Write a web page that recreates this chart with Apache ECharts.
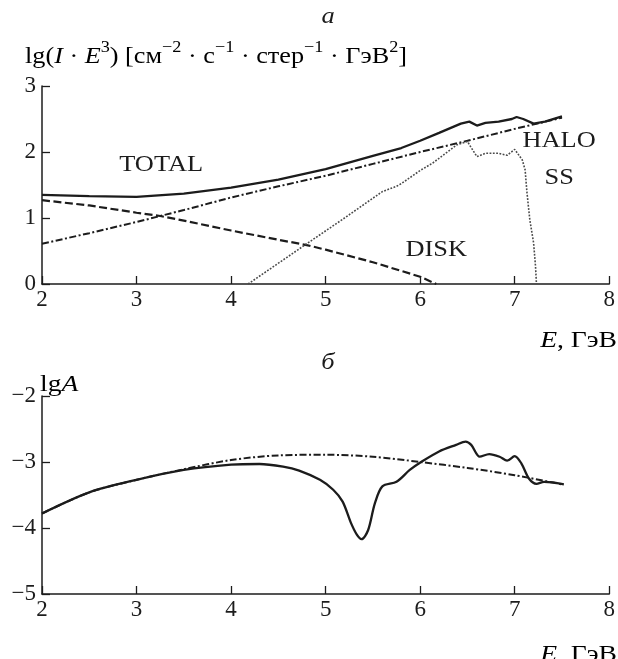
<!DOCTYPE html>
<html>
<head>
<meta charset="utf-8">
<script src="https://cdn.jsdelivr.net/npm/echarts@6/dist/echarts.min.js"></script>
<style>
html,body{margin:0;padding:0;background:#fff;}
#c{width:618px;height:659px;}
</style>
</head>
<body>
<div id="c"></div>
<script>
// ---------- Data (panel a) ----------
const totalE = [2.0,2.5,3.0,3.5,4.0,4.5,5.0,5.5,5.8,6.0,6.2,6.43,6.52,6.6,6.69,6.83,6.97,7.02,7.09,7.2,7.32,7.5];
const totalV = [1.35,1.33,1.32,1.37,1.46,1.58,1.74,1.94,2.06,2.17,2.29,2.43,2.46,2.40,2.44,2.46,2.50,2.53,2.50,2.43,2.46,2.54];

const haloE = [2.0,2.5,3.0,3.5,4.0,4.5,5.0,5.5,6.0,6.5,7.0,7.5];
const haloV = [0.61,0.77,0.94,1.12,1.31,1.48,1.64,1.82,2.0,2.17,2.35,2.52];

const diskE = [2.0,2.5,3.0,3.25,3.5,4.0,4.5,4.8,5.0,5.5,6.0,6.17];
const diskV = [1.27,1.19,1.08,1.03,0.96,0.81,0.67,0.59,0.52,0.33,0.11,0];

const ssE = [4.18,4.78,5.2,5.6,5.75,5.8,6.0,6.13,6.39,6.5,6.53,6.6,6.69,6.83,6.92,7.0,7.08,7.11,7.13,7.16,7.2,7.22,7.23];
const ssV = [0,0.59,1.0,1.40,1.48,1.52,1.72,1.83,2.11,2.16,2.09,1.93,1.98,1.98,1.95,2.04,1.88,1.73,1.38,0.97,0.62,0.27,0];

// ---------- Data (panel б) ----------
const asymE = [2.0,2.5,3.0,3.5,4.0,4.3,4.55,4.72,4.94,5.08,5.18,5.27,5.33,5.38,5.45,5.52,5.6,5.75,5.89,6.01,6.2,6.38,6.48,6.54,6.63,6.73,6.84,6.92,7.0,7.07,7.15,7.23,7.31,7.4,7.52];
const asymV = [-3.78,-3.46,-3.27,-3.12,-3.04,-3.03,-3.07,-3.13,-3.27,-3.42,-3.60,-3.93,-4.1,-4.17,-4.03,-3.63,-3.37,-3.30,-3.12,-3.0,-2.84,-2.74,-2.69,-2.74,-2.92,-2.88,-2.92,-2.98,-2.91,-3.02,-3.25,-3.33,-3.30,-3.31,-3.34];

const bgE = [2.0,2.5,3.0,3.5,4.0,4.5,5.0,5.5,6.0,6.5,7.0,7.5];
const bgV = [-3.78,-3.46,-3.27,-3.11,-2.97,-2.90,-2.89,-2.92,-3.0,-3.09,-3.20,-3.34];

// ---------- Tick settings ----------
const xTicks = {min: 2, max: 8, interval: 1};
const yTopTicks = {min: 0, max: 3, interval: 1};
const yBotTicks = {min: -5, max: -2, interval: 1};

// ---------- Curve labels ----------
const curveLabels = [
  {text: 'TOTAL', E: 3.26, v: 1.80},
  {text: 'HALO', E: 7.47, v: 2.17},
  {text: 'SS', E: 7.47, v: 1.61},
  {text: 'DISK', E: 6.17, v: 0.52}
];

function zip(a, b) { return a.map((x, i) => [x, b[i]]); }

const FONT = '"Liberation Serif", "Times New Roman", serif';
const INK = '#1c1c1c';

function xAxisDef(gi) {
  return {
    type: 'value', gridIndex: gi, min: xTicks.min, max: xTicks.max, interval: xTicks.interval,
    axisLine: {show: true, onZero: false, lineStyle: {color: INK, width: 1.5}},
    axisTick: {show: true, inside: true, length: 8, lineStyle: {color: INK, width: 1.3}},
    axisLabel: {show: true, margin: 4, color: INK, fontFamily: FONT, fontSize: 23, showMinLabel: true, showMaxLabel: true},
    splitLine: {show: false}
  };
}
function yAxisDef(gi, t) {
  return {
    type: 'value', gridIndex: gi, min: t.min, max: t.max, interval: t.interval,
    axisLine: {show: true, onZero: false, lineStyle: {color: INK, width: 1.5}},
    axisTick: {show: true, inside: true, length: 8, lineStyle: {color: INK, width: 1.3}},
    axisLabel: {show: true, margin: 6, color: INK, fontFamily: FONT, fontSize: 23,
      formatter: v => (v < 0 ? '\u2212' + Math.abs(v) : String(v))},
    splitLine: {show: false}
  };
}

function lineSeries(gi, data, style, smooth) {
  return {
    type: 'line', xAxisIndex: gi, yAxisIndex: gi, data: data,
    showSymbol: false, symbol: 'none', smooth: smooth || false,
    lineStyle: style, silent: true, animation: false, clip: true
  };
}

const chart = echarts.init(document.getElementById('c'), null, {renderer: 'canvas'});

chart.setOption({
  animation: false,
  backgroundColor: '#fff',
  grid: [
    {left: 42, right: 8, top: 86, height: 198, containLabel: false},
    {left: 42, right: 8, top: 396, height: 198, containLabel: false}
  ],
  xAxis: [xAxisDef(0), xAxisDef(1)],
  yAxis: [yAxisDef(0, yTopTicks), yAxisDef(1, yBotTicks)],
  series: [
    lineSeries(0, zip(haloE, haloV), {color: INK, width: 2, type: [7, 2.5, 2, 2.5]}),
    lineSeries(0, zip(diskE, diskV), {color: INK, width: 2.2, type: [8, 3.5]}),
    lineSeries(0, zip(ssE, ssV), {color: '#4a4a4a', width: 1.6, type: [1.8, 1.5]}),
    lineSeries(0, zip(totalE, totalV), {color: INK, width: 2.3}),
    lineSeries(1, zip(bgE, bgV), {color: INK, width: 2, type: [7, 2.5, 2, 2.5]}, 0.3),
    lineSeries(1, zip(asymE, asymV), {color: INK, width: 2.3}, 0.3)
  ]
});

const rich = {
  n: {fontFamily: FONT, fontSize: 23, color: INK, lineHeight: 28, verticalAlign: 'bottom'},
  i: {fontFamily: FONT, fontSize: 23, color: INK, fontStyle: 'italic', lineHeight: 28, verticalAlign: 'bottom'},
  s: {fontFamily: FONT, fontSize: 16, color: INK, lineHeight: 16, verticalAlign: 'top'}
};

const graphics = [
  {type: 'text', x: 328, y: 17, scaleX: 1.15, style: {text: 'а', fontFamily: FONT, fontSize: 23, fontStyle: 'italic', fill: INK, align: 'center', verticalAlign: 'middle'}},
  {type: 'text', x: 328, y: 363, scaleX: 1.15, style: {text: 'б', fontFamily: FONT, fontSize: 23, fontStyle: 'italic', fill: INK, align: 'center', verticalAlign: 'middle'}},
  {type: 'text', x: 25, y: 54, scaleX: 1.14, style: {
    text: '{n|lg(}{i|I}{n| · }{i|E}{s|3}{n|) [см}{s|−2}{n| · с}{s|−1}{n| · стер}{s|−1}{n| · ГэВ}{s|2}{n|]}',
    rich: rich, align: 'left', verticalAlign: 'middle'}},
  {type: 'text', x: 40, y: 382, scaleX: 1.2, style: {text: '{n|lg}{i|A}', rich: rich, align: 'left', verticalAlign: 'middle'}},
  {type: 'text', x: 617, y: 338, scaleX: 1.2, style: {text: '{i|E}{n|, ГэВ}', rich: rich, align: 'right', verticalAlign: 'middle'}},
  {type: 'text', x: 617, y: 652, scaleX: 1.2, style: {text: '{i|E}{n|, ГэВ}', rich: rich, align: 'right', verticalAlign: 'middle'}}
];

curveLabels.forEach(l => {
  const p = chart.convertToPixel({gridIndex: 0}, [l.E, l.v]);
  graphics.push({type: 'text', x: p[0], y: p[1], scaleX: 1.1, style: {
    text: l.text, fontFamily: FONT, fontSize: 24, fill: INK, align: 'center', verticalAlign: 'middle'}});
});

chart.setOption({graphic: graphics});
</script>
</body>
</html>
